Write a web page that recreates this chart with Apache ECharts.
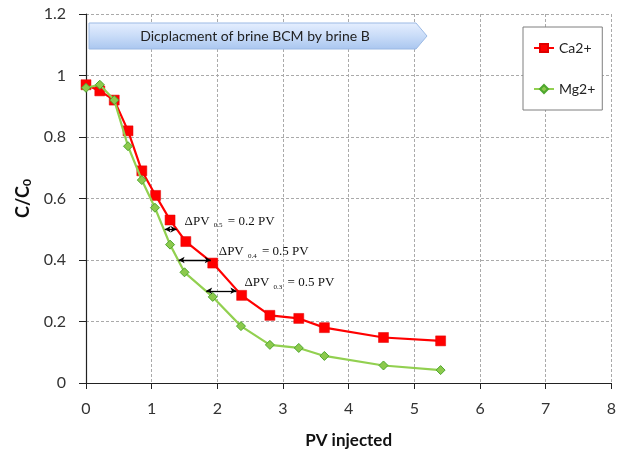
<!DOCTYPE html>
<html><head><meta charset="utf-8">
<script src="https://cdn.jsdelivr.net/npm/echarts@6/dist/echarts.min.js"></script>
<style>html,body{margin:0;padding:0;background:#fff}#c{width:619px;height:454px}</style>
</head><body><div id="c"></div>
<script>
const pvCa = [0, 0.21, 0.43, 0.64, 0.85, 1.06, 1.28, 1.52, 1.93, 2.37, 2.80, 3.24, 3.63, 4.53, 5.40];
const ca = [0.97, 0.95, 0.92, 0.82, 0.69, 0.61, 0.53, 0.46, 0.39, 0.285, 0.22, 0.21, 0.18, 0.148, 0.137];
const pvMg = [0, 0.21, 0.43, 0.64, 0.85, 1.05, 1.28, 1.50, 1.93, 2.36, 2.80, 3.24, 3.63, 4.53, 5.40];
const mg = [0.96, 0.97, 0.92, 0.77, 0.66, 0.57, 0.45, 0.36, 0.28, 0.185, 0.124, 0.114, 0.088, 0.057, 0.042];
const xTicks = [0, 1, 2, 3, 4, 5, 6, 7, 8];
const yTicks = [0, 0.2, 0.4, 0.6, 0.8, 1, 1.2];
// annotation arrows: [y level, x from, x to, subscript, value text]
const annLevel = [0.5, 0.4, 0.3];
const annFrom = [1.2, 1.41, 1.83];
const annTo = [1.38, 1.9, 2.29];
const annSub = ['0.5', '0.4', '0.3'];
const annVal = ['0.2', '0.5', '0.5'];
const titleText = 'Dicplacment of brine BCM by brine B';

const chart = echarts.init(document.getElementById('c'));
const font = 'Lato, "Open Sans", sans-serif';
const arrowLines = annLevel.map((y, i) => [{coord: [annFrom[i], y]}, {coord: [annTo[i], y]}]);

chart.setOption({
  animation: false,
  grid: {left: 86, right: 7, top: 14, bottom: 71},
  legend: {
    orient: 'vertical', left: 523, top: 27,
    padding: [14, 7, 14, 10], itemGap: 27, itemWidth: 20, itemHeight: 10,
    borderColor: '#7f7f7f', borderWidth: 1, backgroundColor: '#fff',
    textStyle: {fontFamily: font, fontSize: 14, color: '#222'},
    data: ['Ca2+', 'Mg2+']
  },
  xAxis: {
    type: 'value', min: 0, max: 8, interval: 1,
    name: 'PV injected', nameLocation: 'middle', nameGap: 49,
    nameTextStyle: {fontFamily: font, fontSize: 17, fontWeight: 'bold', color: '#111'},
    axisLine: {show: true, lineStyle: {color: '#222', width: 1.2}},
    axisTick: {show: true, length: 6, lineStyle: {color: '#222'}},
    axisLabel: {fontFamily: font, fontSize: 16, color: '#333', margin: 18, formatter: v => xTicks.includes(v) ? String(v) : ''},
    splitLine: {show: true, lineStyle: {color: '#aaa', type: [3, 2]}}
  },
  yAxis: {
    type: 'value', min: 0, max: 1.2, interval: 0.2,
    name: '{m|C/C}{s|0}', nameLocation: 'middle', nameGap: 52, nameRotate: 90,
    nameTextStyle: {rich: {
      m: {fontFamily: font, fontSize: 18, fontWeight: 'bold', color: '#111'},
      s: {fontFamily: font, fontSize: 12, fontWeight: 'bold', color: '#111', verticalAlign: 'bottom', padding: [8, 0, 0, 0]}
    }},
    axisLine: {show: true, lineStyle: {color: '#222', width: 1.2}},
    axisTick: {show: true, length: 7, lineStyle: {color: '#222'}},
    axisLabel: {fontFamily: font, fontSize: 16, color: '#333', margin: 20,
      formatter: v => { const t = yTicks.find(k => Math.abs(k - v) < 1e-6); return t === undefined ? '' : String(t); }},
    splitLine: {show: true, lineStyle: {color: '#aaa', type: [3, 2]}}
  },
  series: [
    {
      name: 'Ca2+', type: 'line', data: pvCa.map((x, i) => [x, ca[i]]),
      symbol: 'rect', symbolSize: 10, z: 3,
      lineStyle: {color: '#ff0000', width: 2.2},
      itemStyle: {color: '#ff0000', borderColor: '#e00000', borderWidth: 0.5},
      markLine: {
        silent: true, symbol: ['arrow', 'arrow'], symbolSize: [5, 6],
        lineStyle: {color: '#000', width: 1.3, type: 'solid'},
        label: {show: false}, data: arrowLines
      }
    },
    {
      name: 'Mg2+', type: 'line', data: pvMg.map((x, i) => [x, mg[i]]),
      symbol: 'diamond', symbolSize: 9, z: 4,
      lineStyle: {color: '#92d050', width: 2.2},
      itemStyle: {color: '#8cc94c', borderColor: '#4ea72e', borderWidth: 1}
    }
  ]
});

function drawGraphics() {
  const elems = [];
  // title banner (arrow shape)
  elems.push({
    type: 'polygon', z: 10,
    shape: {points: [[89, 23], [416, 23], [427, 36], [416, 49], [89, 49]]},
    style: {fill: new echarts.graphic.LinearGradient(0, 0, 0, 1, [
      {offset: 0, color: '#e6efff'}, {offset: 0.5, color: '#c9dcf8'}, {offset: 1, color: '#a9c6ef'}]),
      stroke: '#9bb9e4', lineWidth: 1}
  });
  elems.push({
    type: 'text', z: 11, x: 255, y: 36,
    style: {text: titleText, fontFamily: font, fontSize: 14, fill: '#222', align: 'center', verticalAlign: 'middle'}
  });
  annLevel.forEach((y, i) => {
    const p = chart.convertToPixel({gridIndex: 0}, [annTo[i], y]);
    elems.push({
      type: 'text', z: 11, x: p[0] + 8, y: p[1] - 8,
      style: {
        text: '{a|ΔPV }{s|' + annSub[i] + '}{a| = ' + annVal[i] + ' PV}',
        verticalAlign: 'middle', align: 'left',
        rich: {
          a: {fontFamily: '"Liberation Serif", serif', fontSize: 13, fill: '#111'},
          s: {fontFamily: '"Liberation Serif", serif', fontSize: 7, fill: '#111', verticalAlign: 'bottom', padding: [8, 2, 0, 1]}
        }
      }
    });
  });
  chart.setOption({graphic: {elements: elems}});
}
drawGraphics();
</script></body></html>
